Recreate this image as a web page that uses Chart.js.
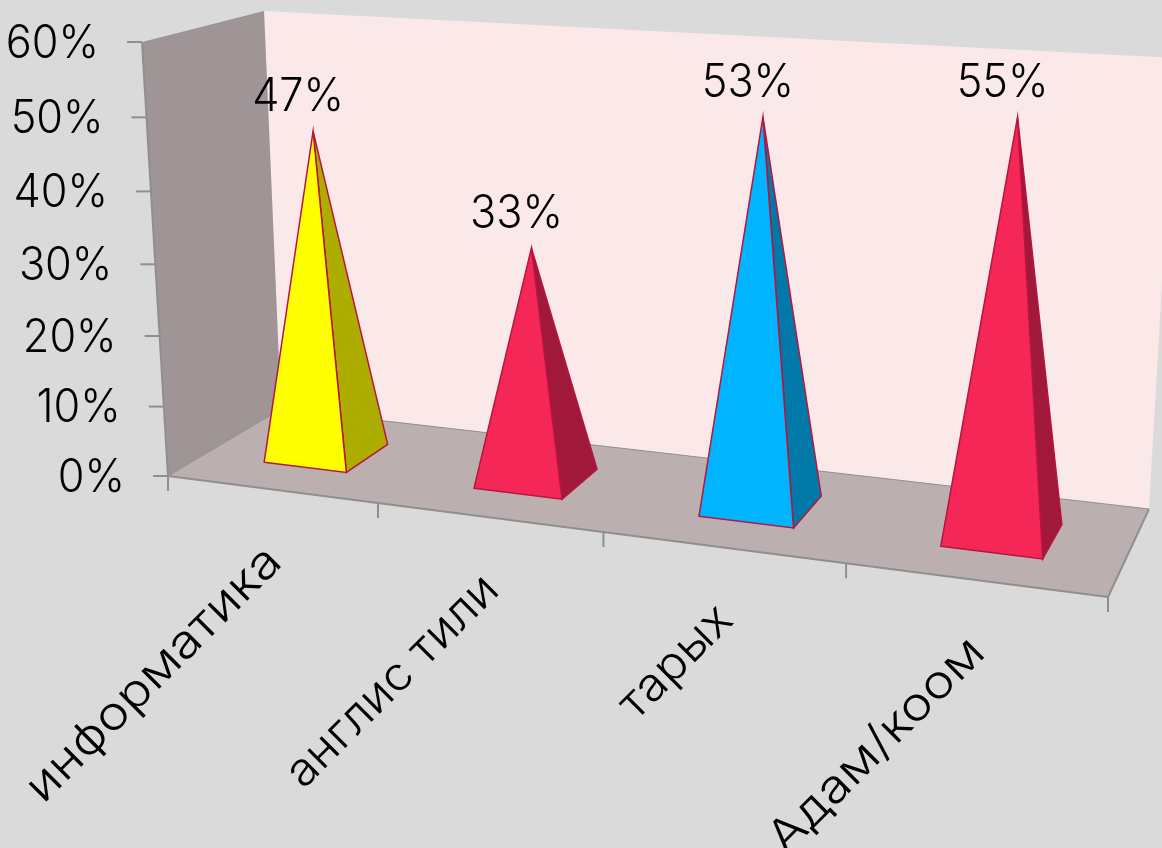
<!DOCTYPE html>
<html>
<head>
<meta charset="utf-8">
<script src="https://cdn.jsdelivr.net/npm/chart.js@4"></script>
<style>
  html, body { margin: 0; background: #dadada; }
  #wrap { width: 1162px; height: 848px; overflow: hidden; }
</style>
</head>
<body>
<div id="wrap"><canvas id="chart" width="1162" height="848"></canvas></div>
<script>
const categories = ['информатика', 'англис тили', 'тарых', 'Адам/коом']
const values = [47, 33, 53, 55]
const yTicks = [0, 10, 20, 30, 40, 50, 60]

const faceColors = ['#ffff00', '#f52757', '#00b4ff', '#f52757']
const sideColors = ['#adad00', '#a0183a', '#0079a8', '#a0183a']
const outline = '#b8143f'
const FONT = '300 46px Inter, "Noto Sans", sans-serif'
const labelStretch = [1.15, 1.06, 1.08, 1.15]

// corners of the 3D box on screen: floor and top, [front-left, front-right, back-left, back-right]
const floorQuad = [[168, 476], [1108, 597], [281, 409], [1149, 509]]
const topQuad = [[142, 42], [1134, 100], [264, 11], [1175, 58]]
const depthFront = 0.3
const depthBack = 0.7

function homography(q) {
  const [p0, p1, p2, p3] = q
  const dx1 = p1[0] - p3[0], dx2 = p2[0] - p3[0], sx = p0[0] - p1[0] - p2[0] + p3[0]
  const dy1 = p1[1] - p3[1], dy2 = p2[1] - p3[1], sy = p0[1] - p1[1] - p2[1] + p3[1]
  const det = dx1 * dy2 - dx2 * dy1
  const g = (sx * dy2 - dx2 * sy) / det
  const h = (dx1 * sy - sx * dy1) / det
  return (u, v) => {
    const w = 1 + g * u + h * v
    return [
      (p1[0] - p0[0] + g * p1[0]) * u / w + (p2[0] - p0[0] + h * p2[0]) * v / w + p0[0] / w,
      (p1[1] - p0[1] + g * p1[1]) * u / w + (p2[1] - p0[1] + h * p2[1]) * v / w + p0[1] / w
    ]
  }
}
const onFloor = homography(floorQuad)
const onTop = homography(topQuad)

// u across, v into the page, t up; all 0..1
function project(u, v, t) {
  const a = onFloor(u, v), b = onTop(u, v)
  const s = t / (t + (1 - t) * 1.05)
  return [a[0] + (b[0] - a[0]) * s, a[1] + (b[1] - a[1]) * s]
}

function poly(ctx, pts, fill, stroke, lw) {
  ctx.beginPath()
  pts.forEach((p, i) => (i ? ctx.lineTo(p[0], p[1]) : ctx.moveTo(p[0], p[1])))
  ctx.closePath()
  if (fill) {
    ctx.fillStyle = fill
    ctx.fill()
  }
  if (stroke) {
    ctx.strokeStyle = stroke
    ctx.lineWidth = lw
    ctx.lineJoin = 'miter'
    ctx.stroke()
  }
}

function line(ctx, a, b, color, lw) {
  ctx.beginPath()
  ctx.moveTo(a[0], a[1])
  ctx.lineTo(b[0], b[1])
  ctx.strokeStyle = color
  ctx.lineWidth = lw
  ctx.stroke()
}

// the original font is wider for words and narrower for digits than Inter, so stretch it
function text(ctx, str, x, y, stretch, angle) {
  ctx.save()
  ctx.translate(x, y)
  ctx.rotate(angle || 0)
  ctx.scale(stretch, 1)
  ctx.fillStyle = '#000'
  ctx.font = FONT
  ctx.fillText(str, 0, 0)
  ctx.restore()
}

const box3d = {
  id: 'box3d',
  beforeDatasetsDraw(chart) {
    const { ctx, chartArea: area, scales: { x, y } } = chart
    const toU = px => (px - area.left) / area.width
    const toT = py => (area.bottom - py) / area.height
    const grey = '#8f8f8f'
    ctx.save()
    poly(ctx, [project(0, 1, 0), project(1, 1, 0), project(1, 1, 1), project(0, 1, 1)], '#fbe9e9')
    poly(ctx, [project(0, 0, 0), project(0, 1, 0), project(0, 1, 1), project(0, 0, 1)], '#9f9496')
    poly(ctx, [project(0, 0, 0), project(1, 0, 0), project(1, 1, 0), project(0, 1, 0)], '#bbafaf')
    line(ctx, project(0, 1, 0), project(1, 1, 0), grey, 1)
    line(ctx, project(0, 0, 0), project(0, 1, 0), grey, 1)
    line(ctx, project(1, 0, 0), project(1, 1, 0), grey, 2)
    line(ctx, project(0, 0, 0), project(1, 0, 0), grey, 2)
    line(ctx, project(0, 0, 0), project(0, 0, 1), grey, 2)

    ctx.textAlign = 'right'
    ctx.textBaseline = 'middle'
    // value axis
    y.ticks.forEach(tick => {
      const p = project(0, 0, toT(y.getPixelForValue(tick.value)))
      line(ctx, [p[0] - 15, p[1]], p, grey, 2)
      text(ctx, tick.label, p[0] - 43, p[1] + 2, 0.94)
    })
    // category axis
    categories.forEach((name, i) => {
      for (const e of i === 0 ? [-0.5, 0.5] : [i + 0.5]) {
        const p = project(toU(x.getPixelForValue(e)), 0, 0)
        line(ctx, p, [p[0], p[1] + 15], grey, 2)
      }
      const c = project(toU(x.getPixelForValue(i)), 0, 0)
      text(ctx, name, c[0] + 3, c[1] + 65, labelStretch[i], -Math.PI / 4)
    })
    ctx.restore()
  },
  afterDatasetsDraw(chart) {
    const { ctx, chartArea: area } = chart
    const toU = px => (px - area.left) / area.width
    const toT = py => (area.bottom - py) / area.height
    const bars = chart.getDatasetMeta(0).data
    ctx.save()
    ctx.textAlign = 'center'
    ctx.textBaseline = 'alphabetic'
    bars.forEach((bar, i) => {
      const u0 = toU(bar.x - bar.width / 2), u1 = toU(bar.x + bar.width / 2)
      const apex = project(toU(bar.x), (depthFront + depthBack) / 2, toT(bar.y) * 0.986)
      const fl = project(u0, depthFront, 0), fr = project(u1, depthFront, 0), br = project(u1, depthBack, 0)
      poly(ctx, [fr, br, apex], sideColors[i], outline, 1.5)
      poly(ctx, [fl, fr, apex], faceColors[i], outline, 1.5)
      text(ctx, values[i] + '%', apex[0] - 15, apex[1] - 20, 0.94)
    })
    ctx.restore()
  }
}

new Chart(document.getElementById('chart'), {
  type: 'bar',
  data: {
    labels: categories,
    datasets: [{
      data: values,
      backgroundColor: 'transparent',
      borderWidth: 0,
      categoryPercentage: 1,
      barPercentage: 0.4
    }]
  },
  options: {
    responsive: false,
    animation: false,
    layout: { padding: { left: 168, right: 54, top: 42, bottom: 372 } },
    plugins: { legend: { display: false }, tooltip: { enabled: false } },
    scales: {
      x: { display: false },
      y: {
        display: false,
        min: yTicks[0],
        max: yTicks[yTicks.length - 1],
        ticks: { stepSize: 10, callback: v => v + '%' }
      }
    }
  },
  plugins: [box3d]
})
</script>
</body>
</html>
